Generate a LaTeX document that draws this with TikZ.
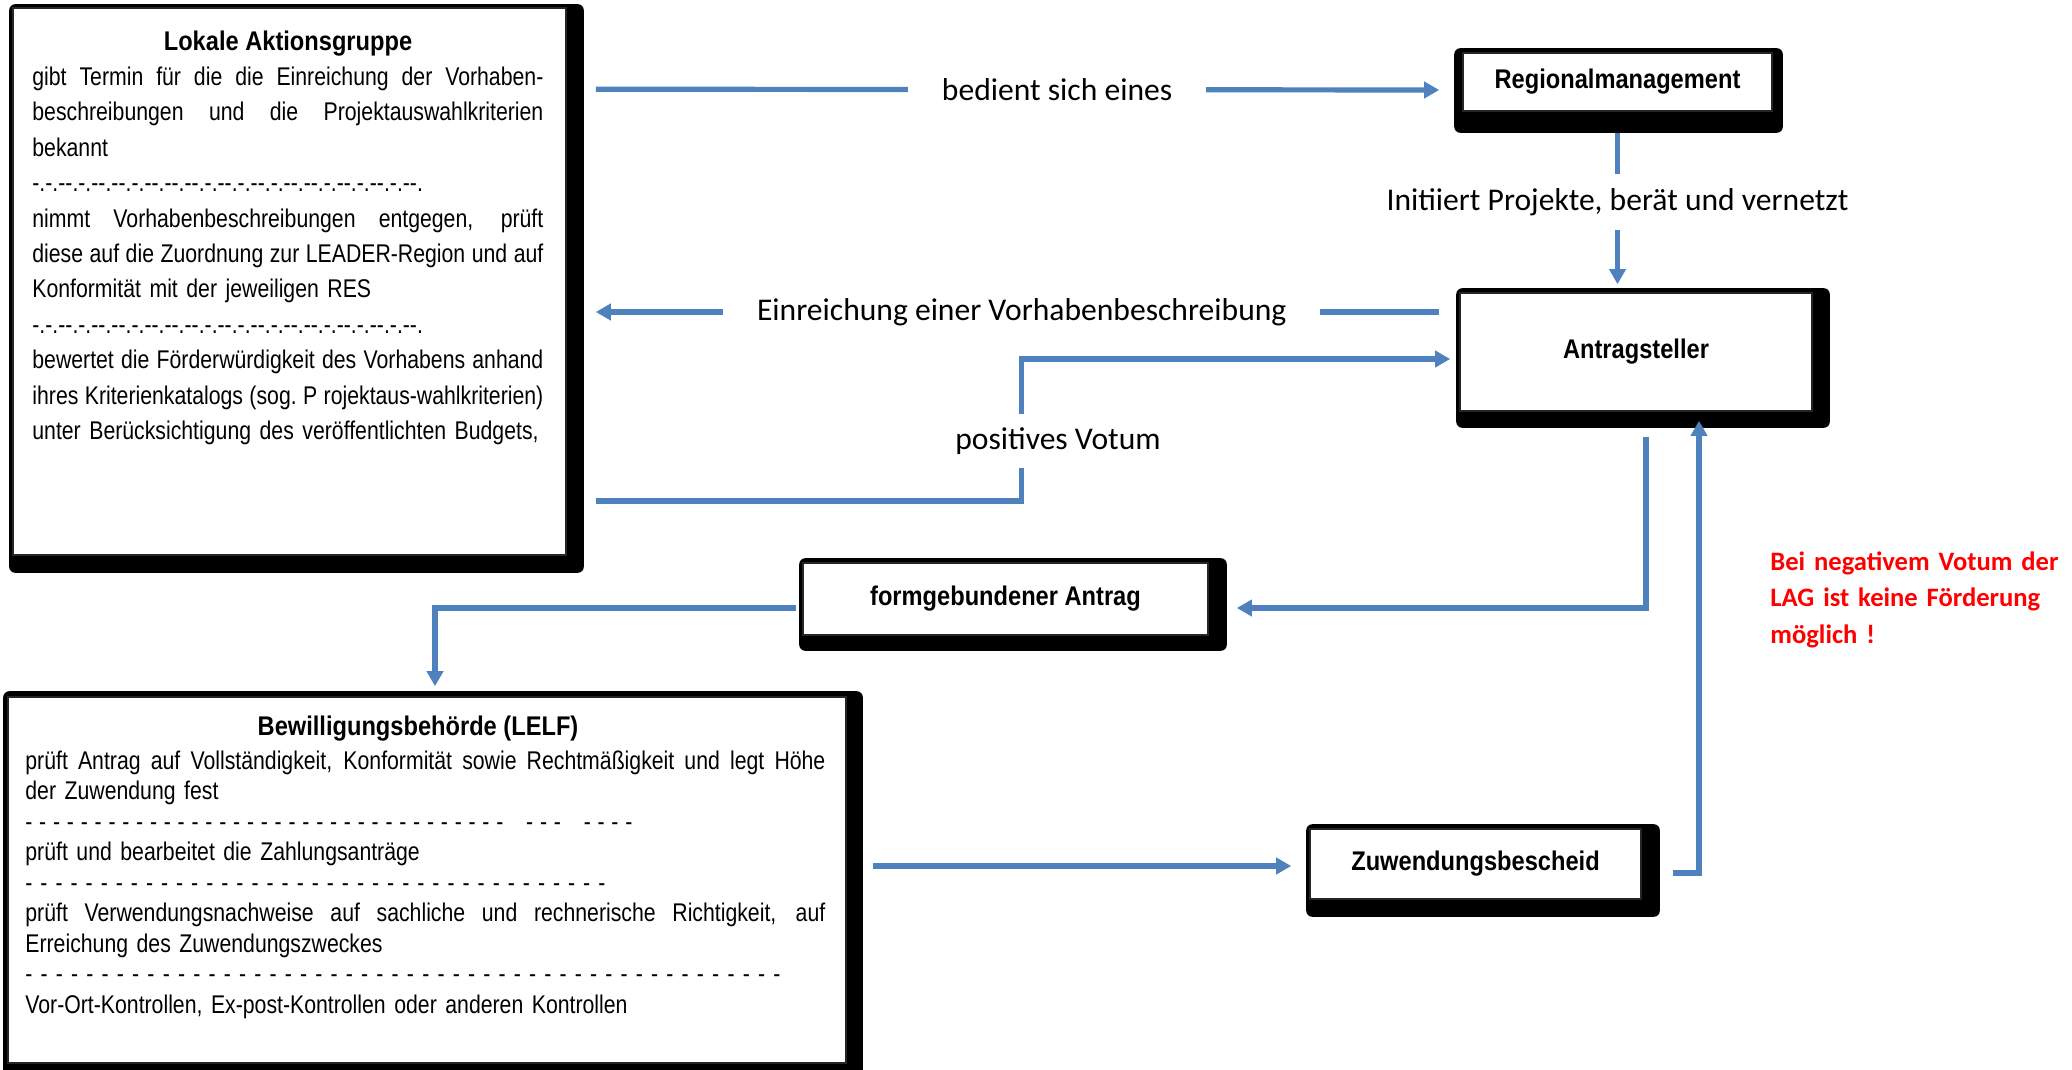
\documentclass[tikz,border=0pt]{standalone}
\usepackage{fontspec}
\newfontfamily\narrowfont{Liberation Sans}[FakeStretch=0.83]
\newfontfamily\labelfont{Liberation Sans}[FakeStretch=0.876]
\newfontfamily\calfont{Carlito}
\usetikzlibrary{calc,arrows.meta,backgrounds}
\definecolor{lineblue}{RGB}{79,129,189}
\newcommand\jline[1]{\leavevmode\hbox to \hsize{\spaceskip=\fontdimen2\font plus 1fil minus 0.4\fontdimen2\font\relax\xspaceskip=\spaceskip #1}}
\newcommand\dotA{-.}
\newcommand\dotB{-\kern0pt-.}
\newcommand\dotsepline{\dotA\dotA\dotB\dotA\dotB\dotB\dotA\dotB\dotB\dotB\dotA\dotB\dotA\dotB\dotA\dotB\dotB\dotA\dotB\dotA\dotB\dotA\dotB}
\newcommand\dashfill{-\hfill}
\newcommand\dashten{\dashfill\dashfill\dashfill\dashfill\dashfill\dashfill\dashfill\dashfill\dashfill\dashfill}
\tikzset{
  boxnode/.style={draw=black!85, line width=0.8pt, fill=white, inner sep=0pt, rectangle},
  boxlabel/.style={font=\labelfont\bfseries\fontsize{13.5pt}{16pt}\selectfont},
  bodytext/.style={inner sep=0pt, align=left, anchor=base west},
  conn/.style={draw=lineblue, line width=2.6pt, -{Triangle[width=8pt,length=7.5pt]}},
  lbl/.style={fill=white, inner xsep=17pt, inner ysep=7pt, font=\calfont\fontsize{15.8pt}{19pt}\selectfont},
  shadowfill/.style={fill=black, rounded corners=3pt},
}
\begin{document}
\begin{tikzpicture}[x=0.5pt,y=-0.5pt]
\useasboundingbox (0,0) rectangle (2072,1070);
% boxes
\node[boxnode, minimum width=276.5pt, minimum height=273.5pt] (lag) at (289.5,281.5) {};
\node[boxnode, boxlabel, minimum width=154.5pt, minimum height=29pt] (reg) at (1617.5,82) {Regionalmanagement};
\node[boxnode, boxlabel, minimum width=176pt, minimum height=59pt] (ant) at (1636,352) {Antragsteller};
\node[boxnode, boxlabel, minimum width=202.5pt, minimum height=36pt] (form) at (1005.5,599) {formgebundener Antrag};
\node[boxnode, boxlabel, minimum width=165.5pt, minimum height=35pt] (zuw) at (1475.5,864) {Zuwendungsbescheid};
\node[boxnode, minimum width=419pt, minimum height=183pt] (lelf) at (427,880) {};
% texts in big boxes
\node[boxlabel, inner sep=0pt, anchor=base] (lagtitle) at (288,51) {Lokale Aktionsgruppe};
\node[bodytext, text width=255.5pt, font=\narrowfont\fontsize{12.8pt}{17.7pt}\selectfont] (lagtext) at (32,85.5) {%
\jline{gibt Termin für die die Einreichung der Vorhaben-}\\
\jline{beschreibungen und die Projektauswahlkriterien}\\
bekannt\\
\dotsepline\\
\jline{nimmt Vorhabenbeschreibungen entgegen, prüft}\\
\jline{diese auf die Zuordnung zur LEADER-Region und auf}\\
Konformität mit der jeweiligen RES\\
\dotsepline\\
\jline{bewertet die Förderwürdigkeit des Vorhabens anhand}\\
\jline{ihres Kriterienkatalogs (sog. P rojektaus-wahlkriterien)}\\
\mbox{unter Berücksichtigung des veröffentlichten Budgets,}};
\node[boxlabel, inner sep=0pt, anchor=base] (lelftitle) at (418,735) {Bewilligungsbehörde (LELF)};
\node[bodytext, text width=400pt, font=\narrowfont\fontsize{12.8pt}{15.25pt}\selectfont] (lelftext) at (25,769) {%
\jline{prüft Antrag auf Vollständigkeit, Konformität sowie Rechtmäßigkeit und legt Höhe}\\
der Zuwendung fest\\
\makebox[303.5pt]{\dashten\dashten\dashten\dashfill\dashfill\dashfill\dashfill\dashfill\hspace{8pt}\dashfill\dashfill\dashfill\hspace{8pt}\dashfill\dashfill\dashfill-}\\
prüft und bearbeitet die Zahlungsanträge\\
\makebox[290pt]{\dashten\dashten\dashten\dashfill\dashfill\dashfill\dashfill\dashfill\dashfill\dashfill\dashfill-}\\
\jline{prüft Verwendungsnachweise auf sachliche und rechnerische Richtigkeit, auf}\\
Erreichung des Zuwendungszweckes\\
\makebox[377.5pt]{\dashten\dashten\dashten\dashten\dashfill\dashfill\dashfill\dashfill\dashfill\dashfill\dashfill\dashfill\dashfill-}\\
Vor-Ort-Kontrollen, Ex-post-Kontrollen oder anderen Kontrollen};
\node[bodytext, text width=160pt, text=red, font=\calfont\bfseries\fontsize{13.3pt}{18.25pt}\selectfont] (note) at (1770,570) {Bei negativem Votum der\\LAG ist keine Förderung\\möglich !};
% connectors
\draw[conn] ($(lag.north east)+(29,82)$) -- node[lbl, pos=0.547] (lbl1) {bedient sich eines} ($(reg.west)+(-23,8)$);
\draw[conn] ($(reg.south)+(0,21)$) -- node[lbl, pos=0.458] (lbl2) {Initiiert Projekte, berät und vernetzt} ($(ant.north)+(-18.5,-8)$);
\draw[conn] ($(ant.west)+(-20,-40)$) -- node[lbl, pos=0.495] (lbl3) {Einreichung einer Vorhabenbeschreibung} ($(lag.east)+(29,30.5)$);
\coordinate (pvbend) at (1021.5,359);
\draw[conn] ($(lag.east)+(29,219.5)$) -| (pvbend) -- ($(ant.west)+(-9,7)$);
\node[lbl] (lbl4) at (1058,441) {positives Votum};
\draw[conn] ($(ant.south)+(10,25)$) |- ($(form.east)+(28,9)$);
\draw[conn] ($(form.west)+(-6,9)$) -| ($(lelf.north)+(8,-10)$);
\draw[conn] ($(lelf.east)+(26,-14)$) -- ($(zuw.west)+(-18,2)$);
\draw[conn] ($(zuw.east)+(31,9)$) -| ($(ant.south)+(63,9)$);
% shadows
\begin{scope}[on background layer]
\fill[white] (0,0) rectangle (2072,1070);
\fill[shadowfill] ($(lag.north west)+(-3,-3)$) rectangle ($(lag.south east)+(17,17)$);
\fill[shadowfill] ($(reg.north west)+(-8,-4)$) rectangle ($(reg.south east)+(10,21)$);
\fill[shadowfill] ($(ant.north west)+(-3,-4)$) rectangle ($(ant.south east)+(17,16)$);
\fill[shadowfill] ($(form.north west)+(-3,-4)$) rectangle ($(form.south east)+(18,15)$);
\fill[shadowfill] ($(zuw.north west)+(-3,-4)$) rectangle ($(zuw.south east)+(18,17)$);
\fill[shadowfill] ($(lelf.north west)+(-4,-5)$) rectangle ($(lelf.south east)+(16,17)$);
\end{scope}
\end{tikzpicture}
\end{document}
